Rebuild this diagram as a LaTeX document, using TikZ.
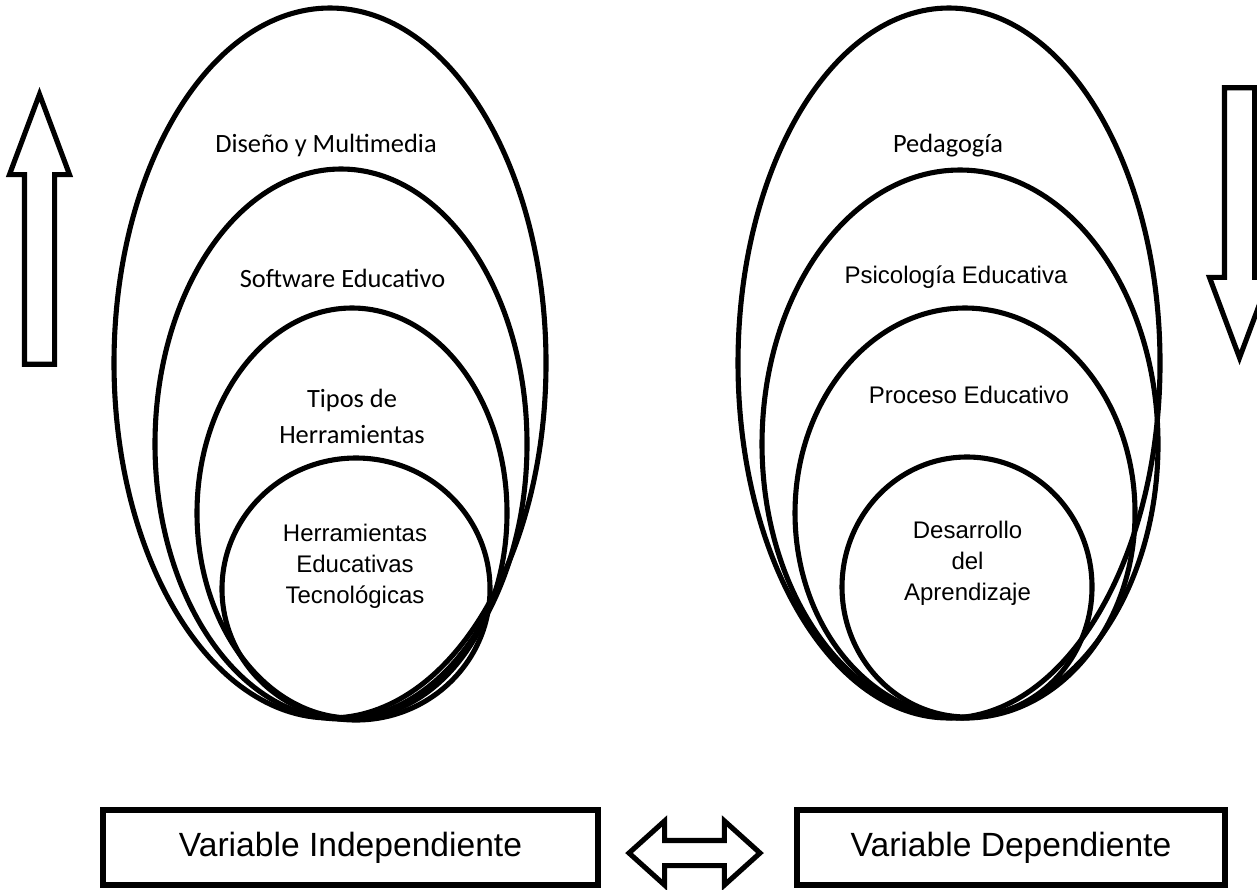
\documentclass[tikz,border=0pt]{standalone}
\usepackage{fontspec}
\setmainfont{Liberation Sans}
\newfontfamily\calibri{Carlito}
\usetikzlibrary{shapes.geometric,shapes.arrows}

\tikzset{
  capa/.style={draw, ellipse, line width=1.45pt, inner sep=0pt},
  txtA/.style={font=\fontsize{6.83}{8.85}\selectfont, align=center, inner sep=0pt},
  txtC/.style={font=\calibri\fontsize{7.51}{10.2}\selectfont, align=center, inner sep=0pt},
  flecha/.style={draw, single arrow, line width=1.45pt, inner sep=0.125cm,
    single arrow head extend=0.15cm, single arrow tip angle=41, minimum height=2.7cm},
  caja/.style={draw, line width=1.45pt, font=\fontsize{9.56}{11}\selectfont, minimum height=0.75cm}
}

\begin{document}
\begin{tikzpicture}
\useasboundingbox (0,0) rectangle (12.57,-8.89);

% variable independiente
\node[capa, minimum width=4.32cm, minimum height=7.10cm] (L1) at (3.30,-3.63) {};
\node[capa, minimum width=3.72cm, minimum height=5.50cm] (L2) at (3.41,-4.44) {};
\node[capa, minimum width=3.10cm, minimum height=4.10cm] (L3) at (3.52,-5.13) {};
\node[capa, minimum width=2.68cm, minimum height=2.62cm] (L4) at (3.56,-5.89) {};

\node[txtC, anchor=base] (dis) at (3.26,-1.52) {Diseño y Multimedia};
\node[txtC, anchor=base] (sof) at (3.425,-2.87) {Software Educativo};
\node[txtC] (tip) at (3.52,-4.16) {Tipos de\\Herramientas};
\node[txtA] (her) at (3.55,-5.66) {Herramientas\\Educativas\\Tecnológicas};

% variable dependiente
\node[capa, minimum width=4.22cm, minimum height=7.10cm] (R1) at (9.49,-3.63) {};
\node[capa, minimum width=3.96cm, minimum height=5.48cm] (R2) at (9.60,-4.44) {};
\node[capa, minimum width=3.40cm, minimum height=4.10cm] (R3) at (9.65,-5.13) {};
\node[capa, minimum width=2.50cm, minimum height=2.60cm] (R4) at (9.67,-5.87) {};

\node[txtC, anchor=base] (ped) at (9.48,-1.52) {Pedagogía};
\node[txtA, anchor=base] (psi) at (9.56,-2.83) {Psicología Educativa};
\node[txtA, anchor=base] (pro) at (9.69,-4.03) {Proceso Educativo};
\node[txtA] (des) at (9.675,-5.63) {Desarrollo\\del\\Aprendizaje};

% flechas
\node[flecha, rotate=90, anchor=tip] (sube) at (0.395,-0.87) {};
\node[flecha, rotate=-90, anchor=tip] (baja) at (12.395,-3.65) {};

\node[caja, minimum width=4.95cm] (vi) at (3.505,-8.475) {Variable Independiente};
\node[caja, minimum width=4.28cm] (vd) at (10.11,-8.475) {Variable Dependiente};
\node[draw, double arrow, line width=1.45pt, inner sep=0.1cm, double arrow head extend=0.195cm,
  double arrow tip angle=84, minimum height=1.31cm] (rel) at (6.945,-8.53) {};
\end{tikzpicture}
\end{document}
